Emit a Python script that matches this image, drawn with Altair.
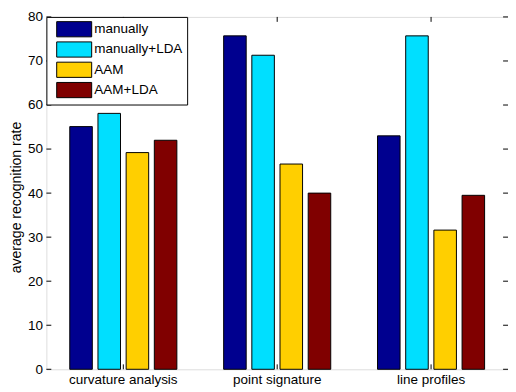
import altair as alt
import pandas as pd

groups = ["curvature analysis", "point signature", "line profiles"]
series = ["manually", "manually+LDA", "AAM", "AAM+LDA"]
colors = ["#00008F", "#00DFFF", "#FFCF00", "#800000"]
values = {
    "manually": [55.1, 75.7, 53.0],
    "manually+LDA": [58.1, 71.3, 75.7],
    "AAM": [49.2, 46.6, 31.6],
    "AAM+LDA": [52.0, 40.0, 39.5],
}
y_ticks = [0, 10, 20, 30, 40, 50, 60, 70, 80]

rows = []
for s in series:
    for g, v in zip(groups, values[s]):
        rows.append({"group": g, "series": s, "value": v})
df = pd.DataFrame(rows)
ticks_df = pd.DataFrame({"value": y_ticks})
groups_df = pd.DataFrame({"group": groups})

W, H = 469, 358
FONT = "Liberation Sans"
LS = 13.7

xscale = alt.Scale(domain=groups, paddingInner=0, paddingOuter=0)
yscale = alt.Scale(domain=[0, 80], nice=False, zero=True)

xaxis = alt.Axis(title=None, ticks=False, domain=False, labelAngle=0,
                 labelFontSize=LS, labelFont=FONT, labelColor="black",
                 labelPadding=3)
yaxis = alt.Axis(title="average recognition rate", values=y_ticks,
                 ticks=False, domain=False, grid=False,
                 labelFontSize=LS, labelFont=FONT, labelColor="black",
                 labelPadding=4, titleFont=FONT, titleFontSize=14.3,
                 titleFontWeight="normal", titleColor="black",
                 titlePadding=4, titleY=183)

X = alt.X("group:N", scale=xscale, sort=groups, axis=xaxis, title=None)
Y = alt.Y("value:Q", scale=yscale, axis=yaxis, title="average recognition rate")

# wide swatch path (drawn larger than the nominal symbol size)
swatch = "M-2.37,-1.03L2.37,-1.03L2.37,1.03L-2.37,1.03Z"

bars = alt.Chart(df).mark_bar(stroke="black", strokeWidth=1).encode(
    x=X,
    xOffset=alt.XOffset("series:N", sort=series,
                        scale=alt.Scale(domain=series, paddingInner=0.2, paddingOuter=0.83)),
    y=Y,
    color=alt.Color("series:N", sort=series,
                    scale=alt.Scale(domain=series, range=colors),
                    legend=alt.Legend(
                        title=None, orient="none", legendX=0, legendY=0,
                        symbolType=swatch,
                        symbolSize=225, symbolStrokeColor="black",
                        symbolStrokeWidth=1, symbolOpacity=1,
                        symbolOffset=15.75,
                        labelFontSize=LS, labelFont=FONT, labelColor="black",
                        labelOffset=12.5, rowPadding=0.6, padding=4.5,
                        strokeColor="black", fillColor="white",
                        cornerRadius=0)),
)

left_ticks = alt.Chart(ticks_df).mark_rule(color="black", strokeWidth=1).encode(
    y=Y, x=alt.value(0), x2=alt.value(5),
)
right_ticks = alt.Chart(ticks_df).mark_rule(color="black", strokeWidth=1).encode(
    y=Y, x=alt.value(W - 5), x2=alt.value(W),
)
bottom_ticks = alt.Chart(groups_df).mark_rule(color="black", strokeWidth=1).encode(
    x=X, y=alt.value(H - 5), y2=alt.value(H),
)
top_ticks = alt.Chart(groups_df).mark_rule(color="black", strokeWidth=1).encode(
    x=X, y=alt.value(0), y2=alt.value(5),
)

chart = alt.layer(bars, left_ticks, right_ticks, bottom_ticks, top_ticks).properties(
    width=W, height=H,
    autosize=alt.AutoSizeParams(type="none"),
    padding={"left": 39, "top": 6, "right": 0, "bottom": 20},
).configure_view(stroke="black", strokeWidth=1).configure(background="white")

chart.save("out.html", embed_options={"renderer": "svg", "actions": False})
